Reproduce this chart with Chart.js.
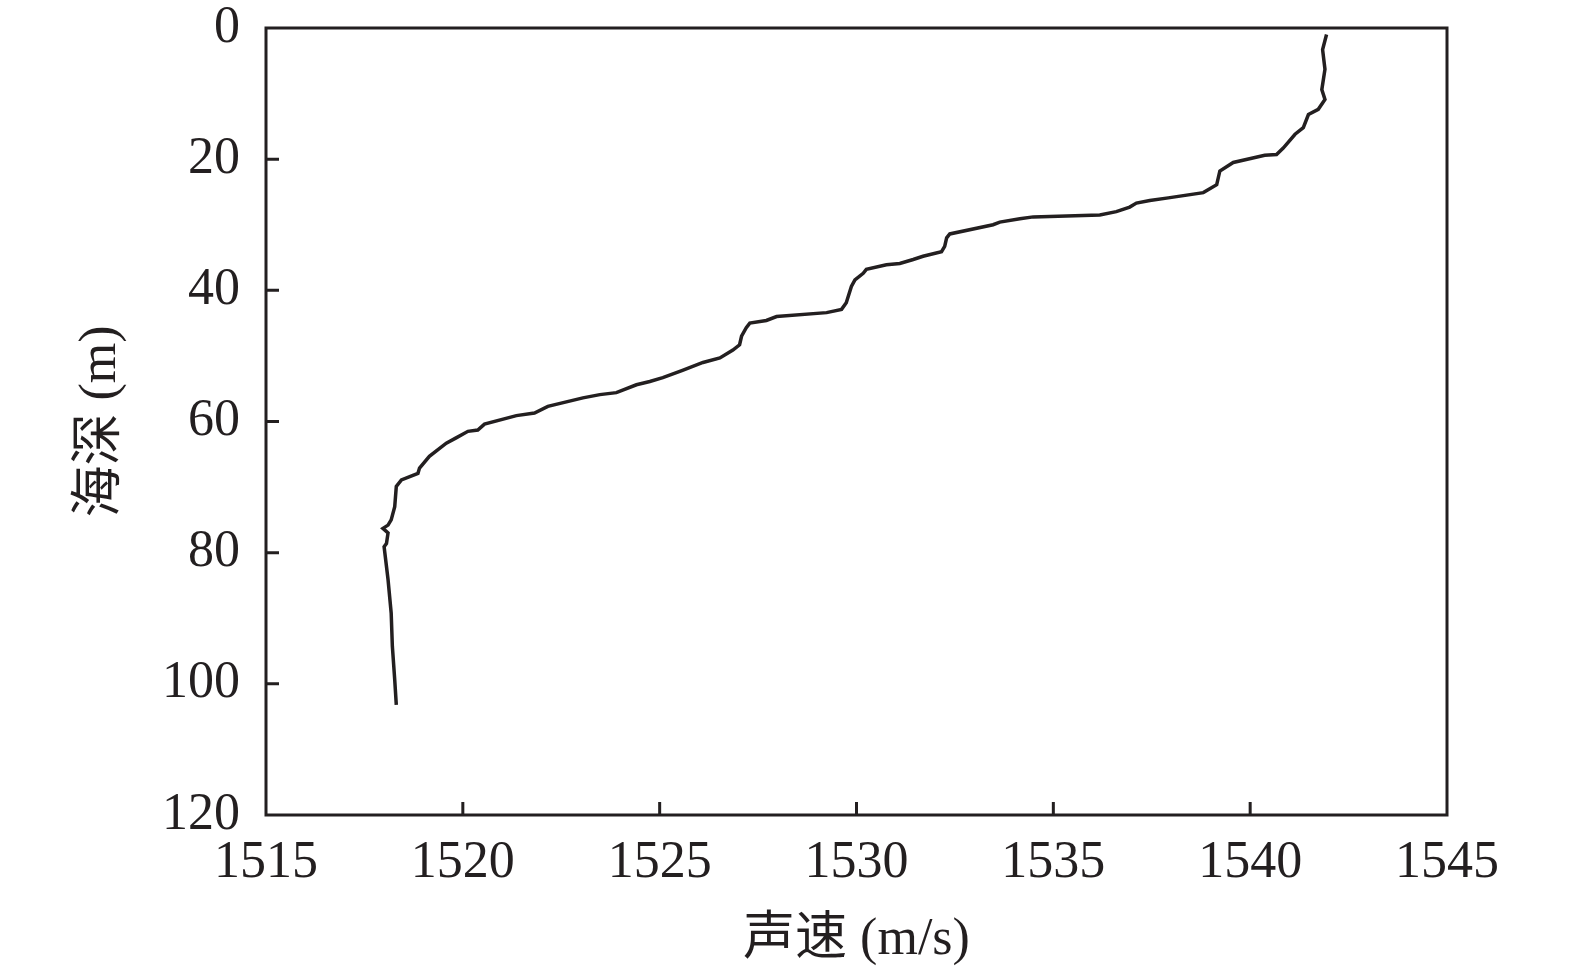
<!DOCTYPE html>
<html>
<head>
<meta charset="utf-8">
<script src="https://cdn.jsdelivr.net/npm/chart.js@4"></script>
<style>
  html, body { margin: 0; padding: 0; background: #fff; }
  #wrap { width: 1575px; height: 976px; }
</style>
</head>
<body>
<div id="wrap"><canvas id="chart" width="1575" height="976"></canvas></div>
<script>
// 声速剖面
const speed = [
  1541.94, 1541.84, 1541.90, 1541.82, 1541.90, 1541.73, 1541.48, 1541.35, 1541.14, 1540.84,
  1540.67, 1540.37, 1539.57, 1539.23, 1539.15, 1538.81, 1537.92, 1537.45, 1537.11, 1536.94,
  1536.60, 1536.18, 1534.49, 1534.15, 1533.64, 1533.47, 1532.37, 1532.29, 1532.24, 1532.16,
  1531.69, 1531.44, 1531.10, 1530.76, 1530.25, 1530.17, 1529.96, 1529.87, 1529.74, 1529.62,
  1529.24, 1527.97, 1527.71, 1527.29, 1527.20, 1527.08, 1527.03, 1526.86, 1526.53, 1526.10,
  1525.58, 1525.08, 1524.75, 1524.41, 1523.90, 1523.48, 1523.05, 1522.16, 1521.82, 1521.36,
  1520.55, 1520.38, 1520.13, 1519.83, 1519.58, 1519.15, 1518.90, 1518.86, 1518.44, 1518.31,
  1518.27, 1518.18, 1518.10, 1517.97, 1518.10, 1518.06, 1518.00, 1518.10, 1518.18, 1518.21,
  1518.27, 1518.31
];
const depth = [
  1.0, 3.3, 6.3, 9.4, 10.9, 12.4, 13.2, 15.2, 16.2, 18.3,
  19.3, 19.4, 20.5, 21.8, 23.9, 25.1, 25.9, 26.3, 26.7, 27.3,
  28.0, 28.5, 28.8, 29.1, 29.6, 30.0, 31.4, 32.0, 33.3, 34.1,
  34.8, 35.3, 35.9, 36.1, 36.8, 37.4, 38.4, 39.4, 41.9, 42.9,
  43.4, 44.0, 44.6, 45.0, 45.7, 47.0, 48.3, 49.1, 50.3, 51.0,
  52.2, 53.3, 53.9, 54.4, 55.6, 55.9, 56.4, 57.7, 58.7, 59.1,
  60.4, 61.3, 61.5, 62.5, 63.3, 65.3, 67.1, 67.9, 68.9, 69.9,
  73.0, 75.0, 75.8, 76.3, 77.0, 78.6, 79.1, 84.1, 89.2, 94.3,
  99.4, 103.2
];
const xTicks = [1515, 1520, 1525, 1530, 1535, 1540, 1545];
const yTicks = [0, 20, 40, 60, 80, 100, 120];

const ink = "#231f20";
const fontFamily = '"Liberation Serif", "Noto Sans CJK SC", serif';

// 边框 + 向内刻度
const frame = {
  id: "frame",
  afterDraw(chart) {
    const ctx = chart.ctx;
    const a = chart.chartArea;
    const xs = chart.scales.x, ys = chart.scales.y;
    ctx.save();
    ctx.strokeStyle = ink;
    ctx.lineWidth = 3;
    ctx.strokeRect(a.left, a.top, a.right - a.left, a.bottom - a.top);
    ctx.beginPath();
    xTicks.slice(1, -1).forEach(v => {
      const px = xs.getPixelForValue(v);
      ctx.moveTo(px, a.bottom);
      ctx.lineTo(px, a.bottom - 13);
    });
    yTicks.slice(1, -1).forEach(v => {
      const py = ys.getPixelForValue(v);
      ctx.moveTo(a.left, py);
      ctx.lineTo(a.left + 13, py);
    });
    ctx.stroke();
    ctx.restore();
  }
};

const points = speed.map((s, i) => ({ x: s, y: depth[i] }));

new Chart(document.getElementById("chart"), {
  type: "scatter",
  data: {
    datasets: [{
      data: points,
      showLine: true,
      borderColor: ink,
      borderWidth: 3.5,
      pointRadius: 0,
      tension: 0
    }]
  },
  options: {
    responsive: false,
    animation: false,
    layout: { padding: { top: 28, right: 128, left: 0, bottom: 0 } },
    plugins: { legend: { display: false }, tooltip: { enabled: false } },
    scales: {
      x: {
        type: "linear",
        min: 1515, max: 1545,
        afterBuildTicks: s => { s.ticks = xTicks.map(v => ({ value: v })); },
        afterFit: s => { s.height = 161; },
        grid: { display: false, drawTicks: false },
        border: { display: false },
        ticks: { color: ink, font: { family: fontFamily, size: 52 }, padding: 17, maxRotation: 0, callback: v => String(v) },
        title: { display: true, text: "声速 (m/s)", color: ink, font: { family: fontFamily, size: 52 }, padding: { top: 0, bottom: 4 } }
      },
      y: {
        type: "linear",
        reverse: true,
        min: 0, max: 120,
        afterBuildTicks: s => { s.ticks = yTicks.map(v => ({ value: v })); },
        afterFit: s => { s.width = 266; s.paddingTop = 0; s.paddingBottom = 0; },
        grid: { display: false, drawTicks: false },
        border: { display: false },
        ticks: { color: ink, font: { family: fontFamily, size: 52 }, padding: 26, callback: v => String(v) },
        title: { display: true, text: "海深 (m)", color: ink, font: { family: fontFamily, size: 52 }, padding: { top: 70, bottom: 0 } }
      }
    }
  },
  plugins: [frame]
});
</script>
</body>
</html>
